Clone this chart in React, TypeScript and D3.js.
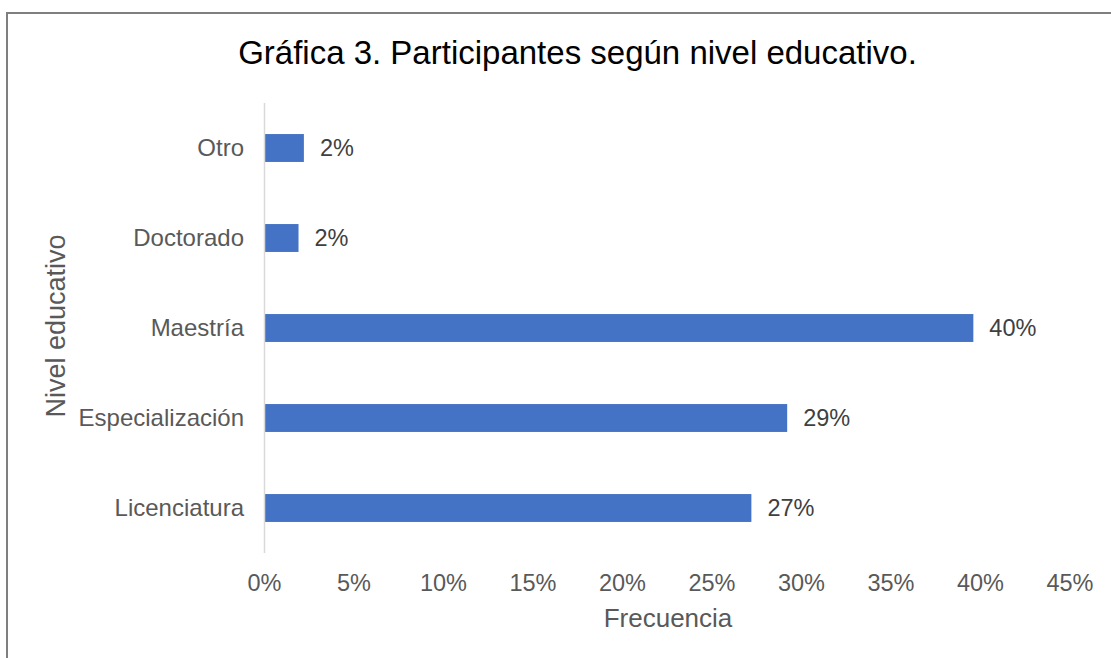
import React from "react";
import * as d3 from "d3";

const categories = ["Otro", "Doctorado", "Maestría", "Especialización", "Licenciatura"];
const values = [0.022, 0.019, 0.396, 0.292, 0.272];
const xTicks = [0, 0.05, 0.1, 0.15, 0.2, 0.25, 0.3, 0.35, 0.4, 0.45];
const title = "Gráfica 3. Participantes según nivel educativo.";
const xTitle = "Frecuencia";
const yTitle = "Nivel educativo";

const W = 1111;
const H = 658;
const FONT = "'Liberation Sans', Arial, sans-serif";

export default function App() {
  const x = d3.scaleLinear().domain([0, 0.45]).range([264.5, 1070]);
  const y = d3
    .scaleBand<string>()
    .domain(categories)
    .range([103, 553])
    .paddingInner(0.69)
    .paddingOuter(0.345);
  const pct = d3.format(".0%");
  const bw = y.bandwidth();

  return (
    <div style={{ position: "fixed", left: 0, top: 0, width: W, height: H, background: "#fff" }}>
      <svg width={W} height={H} style={{ display: "block", fontFamily: FONT }}>
        <rect x={0} y={0} width={W} height={H} fill="#fff" />
        <rect x={7} y={13} width={W + 50} height={H + 50} fill="none" stroke="#7f7f7f" strokeWidth={2} />
        <text x={577.5} y={64} textAnchor="middle" fontSize={33} fill="#000">
          {title}
        </text>
        {categories.map((c, i) => {
          const yy = y(c)!;
          const cy = yy + bw / 2;
          return (
            <g key={c}>
              <rect x={x(0)} y={yy} width={x(values[i]) - x(0)} height={bw} fill="#4472C4" />
              <text x={x(values[i]) + 16} y={cy} dy="0.35em" fontSize={23.5} fill="#404040">
                {pct(values[i])}
              </text>
              <text x={244} y={cy} dy="0.35em" textAnchor="end" fontSize={24} fill="#595959">
                {c}
              </text>
            </g>
          );
        })}
        <line x1={x(0)} x2={x(0)} y1={103} y2={553} stroke="#d9d9d9" strokeWidth={1.5} />
        {xTicks.map((t) => (
          <text key={t} x={x(t)} y={591} textAnchor="middle" fontSize={23.5} fill="#595959">
            {pct(t)}
          </text>
        ))}
        <text x={668} y={627} textAnchor="middle" fontSize={26} fill="#595959">
          {xTitle}
        </text>
        <text
          transform={`translate(65, 326) rotate(-90)`}
          textAnchor="middle"
          fontSize={27}
          fill="#595959"
        >
          {yTitle}
        </text>
      </svg>
    </div>
  );
}
